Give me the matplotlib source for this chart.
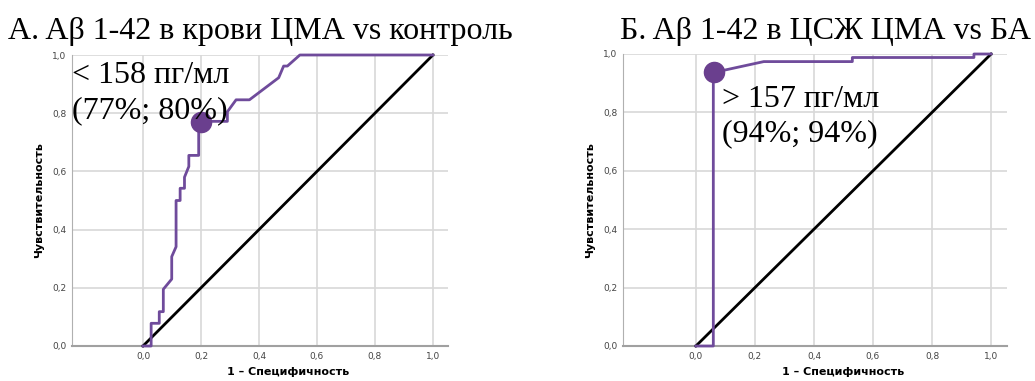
import matplotlib.pyplot as plt

plt.rcParams['font.family'] = ['DejaVu Sans']

# ROC curve, panel A (blood)
fpr_a = [0, 0.028, 0.028, 0.056, 0.056, 0.07, 0.07, 0.099, 0.099, 0.114, 0.114,
         0.128, 0.128, 0.143, 0.143, 0.158, 0.158, 0.192, 0.192, 0.291, 0.291,
         0.321, 0.367, 0.468, 0.485, 0.485, 0.498, 0.541, 1.0]
tpr_a = [0, 0, 0.078, 0.078, 0.118, 0.118, 0.195, 0.23, 0.307, 0.341, 0.5,
         0.5, 0.542, 0.542, 0.58, 0.617, 0.655, 0.655, 0.772, 0.772, 0.805,
         0.846, 0.846, 0.922, 0.962, 0.962, 0.962, 1.0, 1.0]

# ROC curve, panel B (CSF)
fpr_b = [0, 0.059, 0.059, 0.098, 0.23, 0.53, 0.53, 0.942, 0.942, 1.0]
tpr_b = [0, 0, 0.94, 0.945, 0.974, 0.974, 0.988, 0.988, 1.0, 1.0]

# cut-off points: (sensitivity, specificity)
sens_a, spec_a = 0.77, 0.80
sens_b, spec_b = 0.94, 0.94

titles = ['А. Aβ 1-42 в крови ЦМА vs контроль', 'Б. Aβ 1-42 в ЦСЖ ЦМА vs БА']
cut_labels = ['< 158 пг/мл', '> 157 пг/мл']
pct_labels = ['(77%; 80%)', '(94%; 94%)']
ticks = [0, 0.2, 0.4, 0.6, 0.8, 1.0]
tick_labels = ['0,0', '0,2', '0,4', '0,6', '0,8', '1,0']

purple = '#6f4b9b'
dot = '#6a3f8e'

fig = plt.figure(figsize=(10.35, 3.81), dpi=100)
ax1 = fig.add_axes([72/1035, 35/381, 376/1035, 291/381])
ax2 = fig.add_axes([623/1035, 35/381, 384/1035, 292/381])


def roc_panel(ax, fpr, tpr, sens, spec, xmin, xmax):
    ax.set_xlim(xmin, xmax)
    ax.set_ylim(0, 1.0)
    ax.set_xticks(ticks)
    ax.set_yticks(ticks)
    ax.set_xticklabels(tick_labels)
    ax.set_yticklabels(tick_labels)
    ax.tick_params(axis='both', labelsize=6.5, colors='#444444', length=0, pad=4)
    ax.grid(True, color='#d8d8d8', lw=1.2)
    ax.set_axisbelow(True)
    for s in ['top', 'right']:
        ax.spines[s].set_visible(False)
    ax.spines['left'].set_color('#b0b0b0')
    ax.spines['bottom'].set_color('#a0a0a0')
    ax.spines['bottom'].set_linewidth(1.5)
    ax.plot([0, 1], [0, 1], color='black', lw=2, zorder=3, clip_on=False)
    ax.plot(fpr, tpr, color=purple, lw=2, zorder=4, clip_on=False)
    ax.plot([1 - spec], [sens], 'o', color=dot, ms=14.5, zorder=5, clip_on=False)
    ax.set_ylabel('Чувствительность', fontsize=8, fontweight='bold')
    ax.set_xlabel('1 – Специфичность', fontsize=8, fontweight='bold')
    ax.xaxis.set_label_coords(0.574, -0.072)
    ax.yaxis.set_label_coords(-0.073, 0.5)


roc_panel(ax1, fpr_a, tpr_a, sens_a, spec_a, -0.245, 1.052)
roc_panel(ax2, fpr_b, tpr_b, sens_b, spec_b, -0.247, 1.054)

serif = ['Liberation Serif', 'DejaVu Serif']
ax1.text(0.0, 0.904, cut_labels[0], transform=ax1.get_yaxis_transform(),
         fontsize=23, family=serif, va='baseline', ha='left', zorder=6)
ax1.text(0.0, 0.783, pct_labels[0], transform=ax1.get_yaxis_transform(),
         fontsize=23, family=serif, va='baseline', ha='left', zorder=6)
ax2.text(0.088, 0.82, cut_labels[1], fontsize=23, family=serif,
         va='baseline', ha='left', zorder=6)
ax2.text(0.088, 0.70, pct_labels[1], fontsize=23, family=serif,
         va='baseline', ha='left', zorder=6)

fig.text(8/1035, 1 - 39.5/381, titles[0], fontsize=23, family=serif, va='baseline')
fig.text(620/1035, 1 - 39.5/381, titles[1], fontsize=23, family=serif, va='baseline')

fig.savefig('out.png', dpi=100)
